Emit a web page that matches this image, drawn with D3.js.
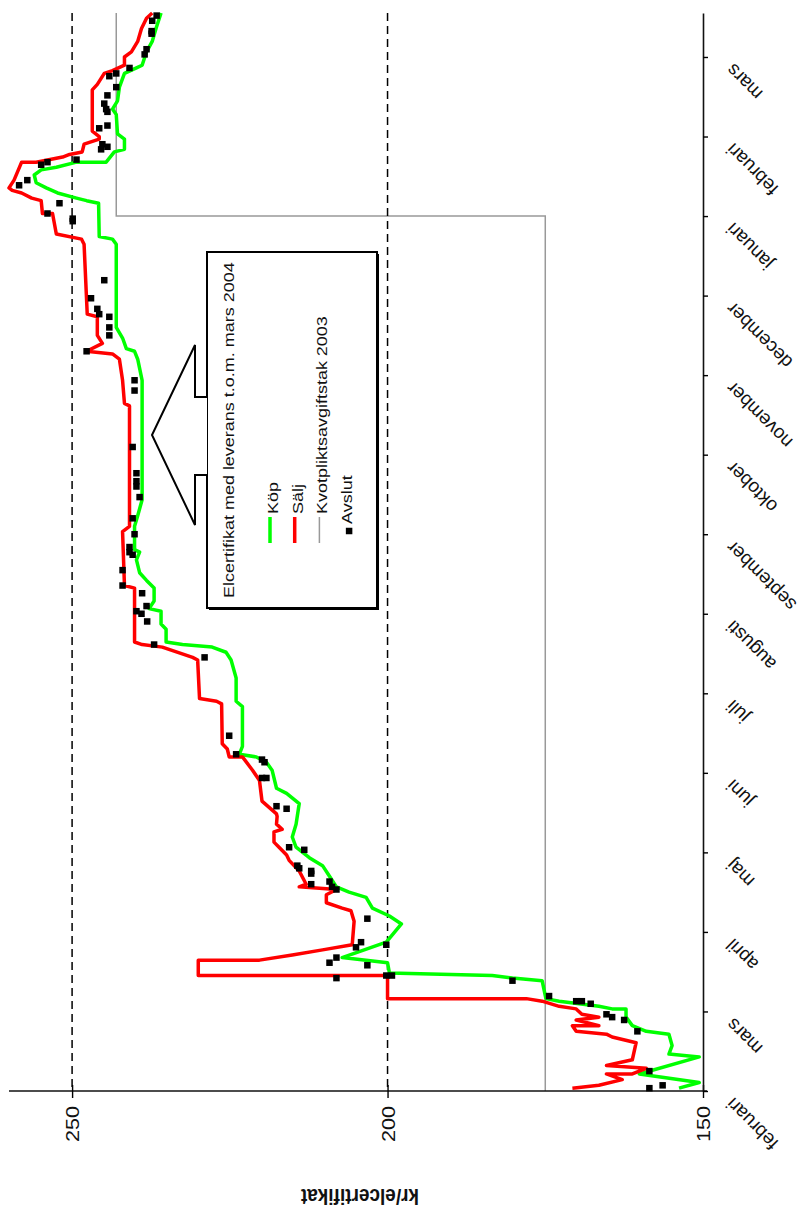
<!DOCTYPE html>
<html>
<head>
<meta charset="utf-8">
<script src="https://cdn.jsdelivr.net/npm/d3@7"></script>
<style>
  body { margin: 0; background: #fff; }
  svg { display: block; }
</style>
</head>
<body>
<svg id="chart" width="802" height="1216"></svg>
<script>
// Month labels along the time axis (Feb 2003 .. Mar 2004)
const monthNames = ["februari", "mars", "april", "maj", "juni", "juli", "augusti",
  "september", "oktober", "november", "december", "januari", "februari", "mars"];

// Price axis ticks (kr/elcertifikat)
const valueTicks = [150, 200, 250];
const referenceLevels = [200, 250];

// Kvotpliktsavgiftstak (penalty fee cap)
const quotaCap = [["2003-02-01", 175], ["2004-01-01", 175], ["2004-01-01", 243], ["2004-03-18", 243]];

// Köp (bid) quotes
const kopQuotes = [
  ["2003-02-02", 153.8], ["2003-02-04", 150.6], ["2003-02-07", 160.1], ["2003-02-13", 150.6],
  ["2003-02-14", 155.4], ["2003-02-17", 154.9], ["2003-02-21", 155.4], ["2003-02-22", 159.0],
  ["2003-02-24", 161.2], ["2003-02-27", 162.2], ["2003-03-02", 162.2], ["2003-03-02", 164.4],
  ["2003-03-03", 166.5], ["2003-03-05", 172.8], ["2003-03-06", 174.9], ["2003-03-13", 175.5],
  ["2003-03-14", 180.2], ["2003-03-15", 183.4], ["2003-03-16", 199.7], ["2003-03-20", 200.0],
  ["2003-03-21", 203.4], ["2003-03-22", 207.2], ["2003-03-28", 200.2], ["2003-04-04", 197.8],
  ["2003-04-07", 199.7], ["2003-04-10", 202.4], ["2003-04-14", 203.4], ["2003-04-16", 206.1],
  ["2003-04-18", 208.1], ["2003-04-22", 209.2], ["2003-04-26", 210.3], ["2003-04-29", 212.4],
  ["2003-05-03", 214.5], ["2003-05-07", 215.1], ["2003-05-12", 214.5], ["2003-05-20", 214.0],
  ["2003-05-24", 216.0], ["2003-05-26", 217.6], ["2003-06-02", 218.3], ["2003-06-05", 219.2],
  ["2003-06-07", 220.8], ["2003-06-08", 223.5], ["2003-06-11", 223.0], ["2003-06-26", 223.0],
  ["2003-06-28", 224.0], ["2003-07-07", 224.0], ["2003-07-14", 224.8], ["2003-07-17", 225.6],
  ["2003-07-19", 227.8], ["2003-07-20", 232.5], ["2003-07-21", 235.1], ["2003-07-26", 235.1],
  ["2003-07-28", 235.9], ["2003-08-02", 235.9], ["2003-08-03", 237.8], ["2003-08-06", 237.0],
  ["2003-08-11", 237.0], ["2003-08-14", 238.2], ["2003-08-17", 239.3], ["2003-08-22", 239.8],
  ["2003-08-25", 239.3], ["2003-08-26", 240.1], ["2003-09-04", 240.1], ["2003-09-08", 239.6],
  ["2003-09-14", 238.9], ["2003-10-30", 238.9], ["2003-11-07", 239.6], ["2003-11-10", 240.1],
  ["2003-11-11", 241.4], ["2003-11-15", 242.0], ["2003-11-19", 243.0], ["2003-12-21", 243.0],
  ["2003-12-23", 243.6], ["2003-12-24", 245.7], ["2004-01-06", 245.8], ["2004-01-07", 247.7],
  ["2004-01-08", 249.3], ["2004-01-10", 252.3], ["2004-01-12", 254.1], ["2004-01-14", 255.7],
  ["2004-01-17", 256.0], ["2004-01-19", 254.9], ["2004-01-20", 252.5], ["2004-01-22", 249.3],
  ["2004-01-22", 244.6], ["2004-01-26", 243.3], ["2004-01-27", 241.7], ["2004-01-31", 241.7],
  ["2004-02-02", 242.8], ["2004-02-09", 243.0], ["2004-02-11", 243.6], ["2004-02-14", 242.8],
  ["2004-02-19", 242.5], ["2004-02-24", 241.7], ["2004-02-26", 239.8], ["2004-02-27", 238.9],
  ["2004-03-03", 238.2], ["2004-03-07", 237.3], ["2004-03-12", 236.7], ["2004-03-18", 235.9]
];

// Sälj (ask) quotes
const saljQuotes = [
  ["2003-02-02", 170.7], ["2003-02-03", 166.5], ["2003-02-05", 162.8], ["2003-02-07", 165.3],
  ["2003-02-07", 161.2], ["2003-02-09", 159.0], ["2003-02-10", 165.3], ["2003-02-12", 161.2],
  ["2003-02-18", 160.6], ["2003-02-20", 164.4], ["2003-02-21", 165.3], ["2003-02-22", 170.1],
  ["2003-02-24", 170.7], ["2003-02-24", 166.5], ["2003-02-26", 170.1], ["2003-02-27", 166.5],
  ["2003-02-28", 169.2], ["2003-03-02", 170.1], ["2003-03-03", 172.8], ["2003-03-05", 175.5],
  ["2003-03-06", 178.0], ["2003-03-06", 200.0], ["2003-03-15", 200.0], ["2003-03-15", 230.0],
  ["2003-03-21", 230.0], ["2003-03-21", 220.3], ["2003-03-23", 215.1], ["2003-03-25", 210.3],
  ["2003-03-27", 205.6], ["2003-04-05", 205.3], ["2003-04-09", 205.8], ["2003-04-10", 207.2],
  ["2003-04-12", 209.7], ["2003-04-15", 209.7], ["2003-04-17", 208.1], ["2003-04-18", 214.0],
  ["2003-04-19", 212.9], ["2003-04-24", 214.0], ["2003-04-28", 215.6], ["2003-04-30", 216.0],
  ["2003-05-03", 217.2], ["2003-05-05", 218.0], ["2003-05-09", 218.0], ["2003-05-10", 216.7],
  ["2003-05-12", 217.6], ["2003-05-15", 217.5], ["2003-05-16", 217.6], ["2003-05-21", 219.9],
  ["2003-05-29", 220.3], ["2003-06-02", 221.4], ["2003-06-07", 223.0], ["2003-06-07", 225.1],
  ["2003-06-10", 225.4], ["2003-06-12", 226.2], ["2003-06-27", 226.3], ["2003-06-28", 227.1],
  ["2003-06-29", 229.8], ["2003-07-14", 230.1], ["2003-07-15", 230.9], ["2003-07-19", 235.7],
  ["2003-07-20", 238.9], ["2003-07-21", 240.1], ["2003-08-11", 240.1], ["2003-08-12", 241.7],
  ["2003-09-02", 242.0], ["2003-09-04", 240.9], ["2003-10-20", 240.9], ["2003-10-21", 241.7],
  ["2003-10-30", 242.0], ["2003-11-07", 242.5], ["2003-11-09", 243.6], ["2003-11-10", 247.7],
  ["2003-11-13", 245.2], ["2003-11-16", 246.0], ["2003-11-23", 246.0], ["2003-11-24", 247.6],
  ["2003-12-21", 248.1], ["2003-12-23", 248.5], ["2003-12-25", 252.5], ["2004-01-02", 253.1],
  ["2004-01-02", 254.7], ["2004-01-07", 254.9], ["2004-01-08", 256.4], ["2004-01-10", 258.0],
  ["2004-01-11", 259.5], ["2004-01-12", 260.0], ["2004-01-15", 259.2], ["2004-01-22", 258.0],
  ["2004-01-22", 255.7], ["2004-01-24", 251.5], ["2004-01-25", 250.4], ["2004-01-26", 248.4],
  ["2004-01-29", 248.1], ["2004-01-31", 245.7], ["2004-02-01", 245.7], ["2004-02-03", 246.8],
  ["2004-02-18", 246.8], ["2004-02-20", 246.0], ["2004-02-24", 244.9], ["2004-02-25", 243.6],
  ["2004-02-27", 241.7], ["2004-03-01", 241.7], ["2004-03-03", 240.6], ["2004-03-07", 239.6],
  ["2004-03-12", 239.0], ["2004-03-16", 238.2], ["2004-03-18", 237.3]
];

// Avslut (closed trades)
const avslutTrades = [
  ["2003-02-02", 158.5], ["2003-02-03", 156.4], ["2003-02-08", 158.5], ["2003-02-22", 160.4],
  ["2003-02-26", 162.5], ["2003-02-27", 164.4], ["2003-02-28", 165.3], ["2003-03-04", 167.8],
  ["2003-03-05", 169.2], ["2003-03-05", 170.1], ["2003-03-07", 174.4], ["2003-03-13", 180.2],
  ["2003-03-15", 199.3], ["2003-03-15", 200.2], ["2003-03-14", 208.1], ["2003-03-19", 203.2],
  ["2003-03-20", 209.2], ["2003-03-22", 208.1], ["2003-03-27", 200.2], ["2003-03-26", 205.0],
  ["2003-03-28", 204.2], ["2003-04-06", 203.2], ["2003-04-17", 208.1], ["2003-04-18", 208.8],
  ["2003-04-20", 209.2], ["2003-04-19", 212.1], ["2003-04-23", 212.1], ["2003-04-24", 212.1],
  ["2003-04-25", 214.0], ["2003-04-26", 214.3], ["2003-05-02", 213.2], ["2003-05-03", 215.6],
  ["2003-05-18", 216.0], ["2003-05-19", 217.6], ["2003-05-30", 219.9], ["2003-05-30", 219.2],
  ["2003-06-05", 219.5], ["2003-06-06", 219.9], ["2003-06-08", 224.0], ["2003-06-15", 225.1],
  ["2003-07-15", 229.0], ["2003-07-20", 237.0], ["2003-07-29", 238.1], ["2003-08-01", 239.0],
  ["2003-08-02", 239.8], ["2003-08-04", 238.2], ["2003-08-09", 238.9], ["2003-08-12", 242.0],
  ["2003-08-18", 242.0], ["2003-08-24", 240.4], ["2003-08-25", 240.9], ["2003-08-27", 240.9],
  ["2003-09-01", 240.1], ["2003-09-07", 240.4], ["2003-09-15", 239.3], ["2003-09-19", 239.8],
  ["2003-09-21", 239.8], ["2003-09-24", 239.8], ["2003-10-04", 240.4], ["2003-10-26", 240.1],
  ["2003-10-30", 240.1], ["2003-11-10", 247.7], ["2003-11-16", 244.1], ["2003-11-19", 244.1],
  ["2003-11-23", 244.1], ["2003-11-24", 245.7], ["2003-11-26", 246.0], ["2003-11-30", 247.0],
  ["2003-12-07", 244.9], ["2003-12-30", 249.9], ["2003-12-31", 249.9], ["2004-01-02", 253.9],
  ["2004-01-06", 252.0], ["2004-01-13", 258.4], ["2004-01-15", 257.1], ["2004-01-21", 254.9],
  ["2004-01-22", 253.9], ["2004-01-23", 249.3], ["2004-01-27", 245.4], ["2004-01-28", 244.4],
  ["2004-01-29", 245.2], ["2004-02-04", 245.7], ["2004-02-05", 244.4], ["2004-02-10", 244.4],
  ["2004-02-11", 244.6], ["2004-02-13", 244.9], ["2004-02-16", 244.4], ["2004-02-19", 243.0],
  ["2004-02-23", 244.1], ["2004-02-24", 243.0], ["2004-02-26", 240.9], ["2004-03-02", 238.5],
  ["2004-03-04", 238.2], ["2004-03-10", 237.4], ["2004-03-11", 237.4], ["2004-03-15", 237.3],
  ["2004-03-17", 236.6]
];

const legendTitle = "Elcertifikat med leverans t.o.m. mars 2004";
const legendItems = [
  { label: "Köp", kind: "line", color: "#00ff00", width: 3.5 },
  { label: "Sälj", kind: "line", color: "#ff0000", width: 3.5 },
  { label: "Kvotpliktsavgiftstak 2003", kind: "line", color: "#999999", width: 1.5 },
  { label: "Avslut", kind: "square", color: "#000000" }
];

const FONT = "'Liberation Sans', Arial, Helvetica, sans-serif";
const svg = d3.select("#chart").attr("font-family", FONT);

const parseDay = d3.timeParse("%Y-%m-%d");
const toPoint = ([d, v]) => ({ date: parseDay(d), value: v });

// Time runs upward; each calendar month gets the same height
const monthStarts = d3.range(14).map(i => new Date(2003, 1 + i, 1));
const lastDay = new Date(2004, 2, 18);
const baseY = 1091, monthStep = 79.54, topY = 13;
const y = d3.scaleTime()
  .domain([...monthStarts, lastDay])
  .range([...monthStarts.map((d, i) => baseY - i * monthStep), topY]);

// Price runs right-to-left
const x = d3.scaleLinear().domain([150, 260]).range([703, 9]);

const line = d3.line().x(d => x(d.value)).y(d => y(d.date));

// Penalty fee cap
svg.append("path")
  .datum(quotaCap.map(toPoint))
  .attr("d", line)
  .attr("fill", "none")
  .attr("stroke", "#999")
  .attr("stroke-width", 1.5);

// Dashed reference levels
svg.append("g").selectAll("line")
  .data(referenceLevels)
  .join("line")
  .attr("x1", d => x(d)).attr("x2", d => x(d))
  .attr("y1", y(lastDay)).attr("y2", baseY)
  .attr("stroke", "#000")
  .attr("stroke-width", 1.5)
  .attr("stroke-dasharray", "8,5");

// Price axis
const xAxis = svg.append("g")
  .attr("transform", `translate(0,${baseY})`)
  .call(d3.axisBottom(x).tickValues(valueTicks).tickSize(6).tickSizeOuter(0).tickFormat(d3.format("d")));
xAxis.attr("font-family", FONT).attr("font-size", 18);
xAxis.select(".domain").attr("stroke", "#111").attr("stroke-width", 1.6)
  .attr("d", `M${x(260)},0H${x(150) + 4}`);
xAxis.selectAll(".tick line").attr("y1", -6).attr("y2", 7).attr("stroke-width", 1.4);
xAxis.selectAll(".tick text")
  .attr("y", null).attr("dy", null)
  .attr("text-anchor", "end")
  .attr("fill", "#111")
  .attr("transform", "translate(6.5,15) rotate(-90) scale(1.2,1)");

// Time axis
const tAxis = svg.append("g")
  .attr("transform", `translate(${x(150)},0)`)
  .call(d3.axisRight(y).tickValues(monthStarts).tickSize(5).tickSizeOuter(0)
    .tickFormat((d, i) => monthNames[i]));
tAxis.attr("font-family", FONT).attr("font-size", 19);
tAxis.select(".domain").attr("stroke", "#111").attr("stroke-width", 1.6);
tAxis.selectAll(".tick line").attr("stroke-width", 1.4);
tAxis.selectAll(".tick text")
  .attr("x", null).attr("dy", null)
  .attr("text-anchor", "end")
  .attr("fill", "#111")
  .attr("transform", "translate(31,5) rotate(-135)");

// Axis title
svg.append("text")
  .attr("transform", "translate(360,1189) rotate(180) scale(1,1.2)")
  .attr("text-anchor", "middle")
  .attr("font-weight", "bold")
  .attr("font-size", 19)
  .attr("fill", "#111")
  .text("kr/elcertifikat");

// Quote lines
svg.append("path")
  .datum(kopQuotes.map(toPoint))
  .attr("d", line)
  .attr("fill", "none")
  .attr("stroke", "#00ff00")
  .attr("stroke-width", 3.5)
  .attr("stroke-linejoin", "round");

svg.append("path")
  .datum(saljQuotes.map(toPoint))
  .attr("d", line)
  .attr("fill", "none")
  .attr("stroke", "#ff0000")
  .attr("stroke-width", 3.5)
  .attr("stroke-linejoin", "round");

// Trades
const sq = 6.5;
svg.append("g").selectAll("rect")
  .data(avslutTrades.map(toPoint))
  .join("rect")
  .attr("x", d => x(d.value) - sq / 2)
  .attr("y", d => y(d.date) - sq / 2)
  .attr("width", sq).attr("height", sq)
  .attr("fill", "#000");

// Legend box with shadow and callout arrow
const box = { x: 207, y: 252, w: 170, h: 356 };
const lg = svg.append("g").attr("font-size", 15).attr("fill", "#111");
lg.append("rect")
  .attr("x", box.x + 2).attr("y", box.y + 2).attr("width", box.w).attr("height", box.h)
  .attr("fill", "#000");
lg.append("rect")
  .attr("x", box.x).attr("y", box.y).attr("width", box.w).attr("height", box.h)
  .attr("fill", "#fff").attr("stroke", "#000").attr("stroke-width", 2);

const arrow = [
  [box.x, 397], [195, 397], [195, 345], [152, 435], [195, 525], [195, 475], [box.x, 475]
];
lg.append("path")
  .attr("d", d3.line()(arrow))
  .attr("fill", "#fff")
  .attr("stroke", "#000")
  .attr("stroke-width", 2)
  .attr("stroke-linejoin", "miter");

lg.append("text")
  .attr("transform", `translate(${box.x + 27},${box.y + box.h - 10}) rotate(-90) scale(1.2,1)`)
  .text(legendTitle);

const itemBase = box.x + 71, itemStep = 24.7;
const items = lg.selectAll("g.item")
  .data(legendItems)
  .join("g")
  .attr("class", "item")
  .attr("transform", (d, i) => `translate(${itemBase + i * itemStep},0)`);

items.filter(d => d.kind === "line").append("line")
  .attr("x1", -8).attr("x2", -8)
  .attr("y1", 543).attr("y2", 517)
  .attr("stroke", d => d.color)
  .attr("stroke-width", d => d.width);

items.filter(d => d.kind === "square").append("rect")
  .attr("x", -3 - sq / 2).attr("y", 531 - sq / 2)
  .attr("width", sq).attr("height", sq)
  .attr("fill", d => d.color);

items.append("text")
  .attr("transform", d => `translate(0,${d.kind === "square" ? 524 : 514}) rotate(-90) scale(1.2,1)`)
  .text(d => d.label);
</script>
</body>
</html>
